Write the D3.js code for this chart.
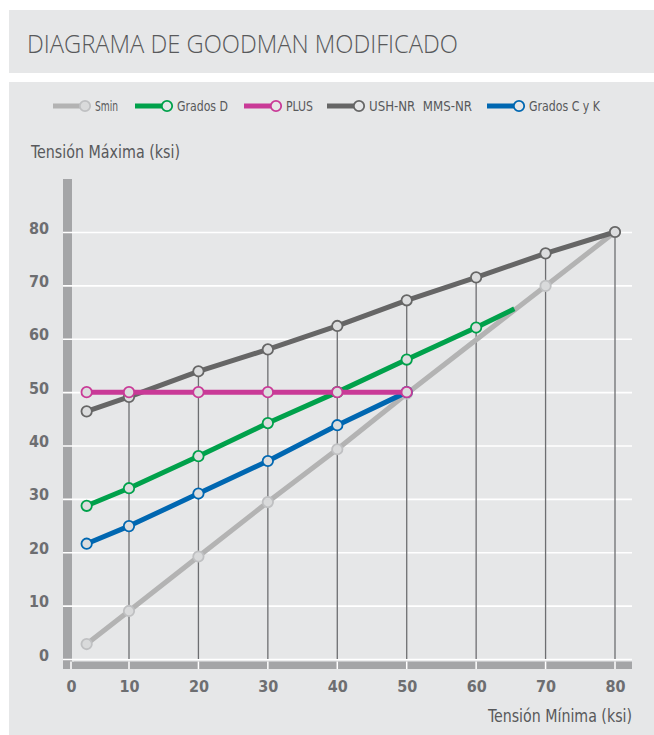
<!DOCTYPE html>
<html>
<head>
<meta charset="utf-8">
<script src="https://cdn.jsdelivr.net/npm/d3@7"></script>
<style>
  body { margin: 0; background: #fff; }
  text { font-family: "Liberation Sans Narrow", "DejaVu Sans Condensed", sans-serif; }
</style>
</head>
<body>
<div id="chart"></div>
<script>
// chart values
const title = "DIAGRAMA DE GOODMAN MODIFICADO";
const yTitle = "Tensión Máxima (ksi)";
const xTitle = "Tensión Mínima (ksi)";
const xTicks = [0, 10, 20, 30, 40, 50, 60, 70, 80];
const yTicks = [0, 10, 20, 30, 40, 50, 60, 70, 80];

const sminX = [2.7, 10, 20, 30, 40, 50, 70, 80];
const sminY = [2.8, 9, 19.2, 29.4, 39.3, 49.7, 69.9, 80];
const gradosDX = [2.7, 10, 20, 30, 40, 50, 60];
const gradosDY = [28.7, 32, 38, 44.2, 50, 56.1, 62.1];
const gradosDEnd = [65.5, 65.6]; // where it runs into Smin, no marker
const plusX = [2.7, 10, 20, 30, 40, 50];
const plusY = [50, 50, 50, 50, 50, 50];
const ushX = [2.7, 10, 20, 30, 40, 50, 60, 70, 80];
const ushY = [46.4, 49.1, 53.9, 58, 62.4, 67.2, 71.5, 76, 80];
const gradosCKX = [2.7, 10, 20, 30, 40, 50];
const gradosCKY = [21.6, 24.9, 31, 37.1, 43.8, 50];

const legendNames = ["Smin", "Grados D", "PLUS", "USH-NR\u00a0\u00a0MMS-NR", "Grados C y K"];
const colors = ["#b3b3b3", "#00a14b", "#c93a97", "#666666", "#0067b1"];

// legend layout (left edge of each key, width of each label)
const legendX = [53, 135, 244, 327, 487];
const legendW = [23, 51, 27, 103, 71];

const W = 654, H = 735;
const svg = d3.select("#chart").append("svg")
  .attr("width", W).attr("height", H);

// panels
svg.append("rect").attr("x", 9).attr("y", 10).attr("width", W - 9).attr("height", 63).attr("fill", "#e6e7e8");
svg.append("rect").attr("x", 9).attr("y", 82).attr("width", W - 9).attr("height", H - 82).attr("fill", "#e6e7e8");

svg.append("text").attr("x", 27).attr("y", 53)
  .attr("font-size", 25).attr("font-weight", 300).attr("fill", "#58595b")
  .attr("textLength", 431).attr("lengthAdjust", "spacingAndGlyphs")
  .style("font-family", "'Open Sans', 'Liberation Sans', sans-serif")
  .text(title);

// scales (the 0 tick sits closer to 10 than the others)
const x = d3.scaleLinear().domain([0, 10, 80]).range([71, 129, 615]);
const y = d3.scaleLinear().domain([0, 80]).range([659, 232]);
const left = 63, right = 632;

// axis bars
svg.append("rect").attr("x", left).attr("y", 179).attr("width", 9).attr("height", 490).attr("fill", "#a4a5a7");
svg.append("rect").attr("x", left).attr("y", 661.5).attr("width", right - left).attr("height", 7.5).attr("fill", "#a4a5a7");
svg.append("rect").attr("x", left + 9).attr("y", 659).attr("width", 2).attr("height", 2.5).attr("fill", "#e6e7e8");

// gridlines
const grid = svg.append("g")
  .attr("transform", `translate(${left},0)`)
  .call(d3.axisRight(y).tickValues(yTicks).tickSize(right - left).tickFormat(""));
grid.select(".domain").remove();
grid.selectAll("line").attr("stroke", "#fff").attr("stroke-width", 1.6);

// white notches in the bottom bar
svg.append("g").selectAll("line").data(xTicks).join("line")
  .attr("x1", d => x(d)).attr("x2", d => x(d))
  .attr("y1", 661.5).attr("y2", 669)
  .attr("stroke", "#fff").attr("stroke-width", 1.5);

// tick labels
const yAx = svg.append("g").attr("transform", "translate(49,0)")
  .call(d3.axisLeft(y).tickValues(yTicks).tickSize(0).tickPadding(0));
yAx.select(".domain").remove();
yAx.selectAll("text").attr("dy", null).attr("y", 1)
  .attr("font-size", 16).attr("font-weight", "bold").attr("fill", "#6d6e71")
  .style("font-family", "'Liberation Sans Narrow', 'DejaVu Sans Condensed', sans-serif");

const xAx = svg.append("g")
  .call(d3.axisBottom(x).tickValues(xTicks).tickSize(0));
xAx.select(".domain").remove();
xAx.selectAll("text").attr("dy", null).attr("y", 692)
  .attr("font-size", 16).attr("font-weight", "bold").attr("fill", "#6d6e71")
  .style("font-family", "'Liberation Sans Narrow', 'DejaVu Sans Condensed', sans-serif");

// axis titles
svg.append("text").attr("x", 31).attr("y", 158)
  .attr("font-size", 17).attr("fill", "#58595b")
  .attr("textLength", 149).attr("lengthAdjust", "spacingAndGlyphs").text(yTitle);
svg.append("text").attr("x", right).attr("y", 722).attr("text-anchor", "end")
  .attr("font-size", 17).attr("fill", "#58595b")
  .attr("textLength", 144).attr("lengthAdjust", "spacingAndGlyphs").text(xTitle);

// drop lines from the top series down to the x axis
const drops = ushX.map((d, i) => ({ x: d, y: ushY[i] })).filter(d => d.x >= 10);
svg.append("g").selectAll("line").data(drops).join("line")
  .attr("x1", d => x(d.x)).attr("x2", d => x(d.x))
  .attr("y1", d => y(d.y)).attr("y2", y(0))
  .attr("stroke", "#6d6e71").attr("stroke-width", 1.3);

// series
const zip = (xs, ys) => xs.map((d, i) => ({ x: d, y: ys[i] }));
const series = [
  { name: legendNames[0], color: colors[0], pts: zip(sminX, sminY), extra: [], fill: "#d9dadb", stroke: "#bfc0c2" },
  { name: legendNames[3], color: colors[3], pts: zip(ushX, ushY), extra: [] },
  { name: legendNames[1], color: colors[1], pts: zip(gradosDX, gradosDY), extra: [{ x: gradosDEnd[0], y: gradosDEnd[1] }] },
  { name: legendNames[4], color: colors[4], pts: zip(gradosCKX, gradosCKY), extra: [] },
  { name: legendNames[2], color: colors[2], pts: zip(plusX, plusY), extra: [] }
];

const line = d3.line().x(d => x(d.x)).y(d => y(d.y));

series.forEach(s => {
  const g = svg.append("g");
  g.append("path")
    .datum(s.pts.concat(s.extra))
    .attr("fill", "none")
    .attr("stroke", s.color)
    .attr("stroke-width", 5)
    .attr("stroke-linejoin", "round")
    .attr("d", line);
  g.selectAll("circle").data(s.pts).join("circle")
    .attr("cx", d => x(d.x)).attr("cy", d => y(d.y))
    .attr("r", 5.2)
    .attr("fill", s.fill || "#dcddde")
    .attr("stroke", s.stroke || s.color)
    .attr("stroke-width", 1.8);
});

// legend
legendNames.forEach((name, i) => {
  const item = svg.append("g").attr("transform", `translate(${legendX[i]},106)`);
  item.append("line").attr("x1", 0).attr("x2", 28).attr("y1", 0).attr("y2", 0)
    .attr("stroke", colors[i]).attr("stroke-width", 5);
  item.append("circle").attr("cx", 32).attr("cy", 0).attr("r", 5.2)
    .attr("fill", i === 0 ? "#d9dadb" : "#e6e7e8")
    .attr("stroke", i === 0 ? "#bfc0c2" : colors[i]).attr("stroke-width", 1.8);
  item.append("text").attr("x", 42).attr("y", 5)
    .attr("font-size", 14.5).attr("fill", "#58595b")
    .attr("textLength", legendW[i]).attr("lengthAdjust", "spacingAndGlyphs")
    .text(name);
});
</script>
</body>
</html>
